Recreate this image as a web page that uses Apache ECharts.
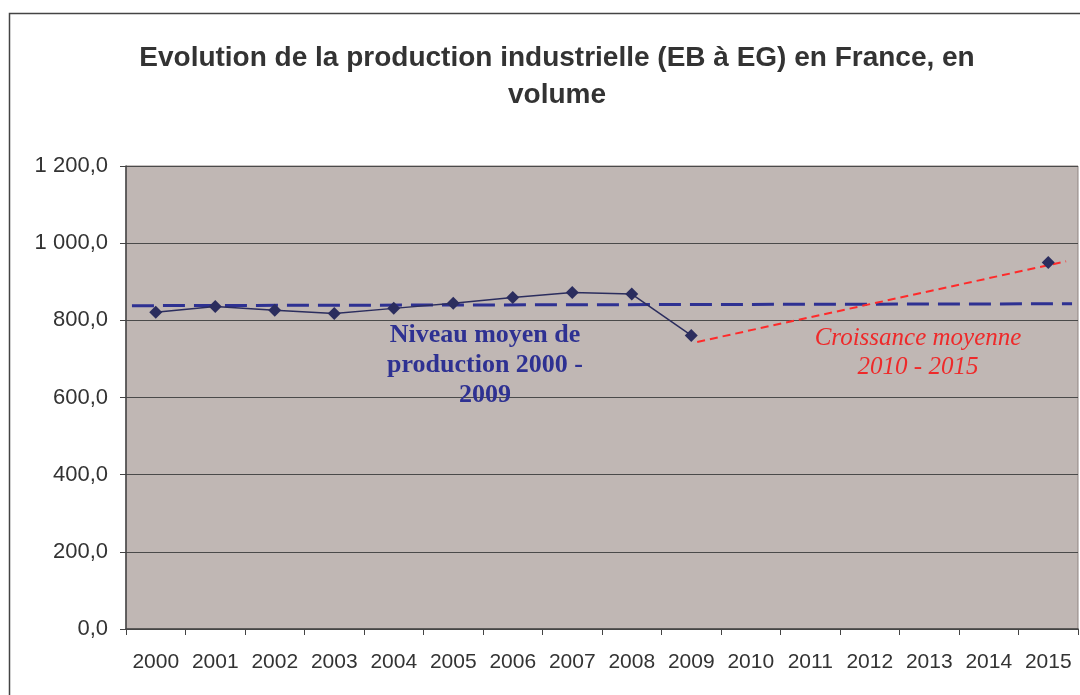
<!DOCTYPE html>
<html>
<head>
<meta charset="utf-8">
<script src="https://cdn.jsdelivr.net/npm/echarts@6/dist/echarts.min.js"></script>
<style>
  html, body { margin: 0; padding: 0; background: #fff; }
  #chart { width: 1080px; height: 695px; }
</style>
</head>
<body>
<div id="chart"></div>
<script>
// years on the category axis
const years = ['2000', '2001', '2002', '2003', '2004', '2005', '2006', '2007',
  '2008', '2009', '2010', '2011', '2012', '2013', '2014', '2015']
// production index, no values 2010-2014
const production = [821, 836, 826, 818, 831, 844, 859, 872, 868, 761,
  null, null, null, null, null, 950]
// average level 2000-2009 (x in category units, y value)
const avgLine = [[0.1, 838], [15.9, 843]]
// average growth 2010-2015
const growthLine = [[9.6, 744], [15.8, 953]]
const yTicks = { min: 0, max: 1200, interval: 200 }

const fmt = (v) => {
  const s = String(Math.round(v)).replace(/\B(?=(\d{3})+(?!\d))/g, ' ')
  return s + ',0'
}

const chart = echarts.init(document.getElementById('chart'))

const option = {
  animation: false,
  backgroundColor: '#fff',
  title: {
    text: 'Evolution de la production industrielle (EB à EG) en France, en\nvolume',
    left: 552,
    top: 35,
    textAlign: 'center',
    textStyle: {
      fontFamily: 'Liberation Sans',
      fontWeight: 'bold',
      fontSize: 28,
      lineHeight: 37,
      color: '#333'
    }
  },
  grid: {
    left: 126, right: 2, top: 166, bottom: 66,
    show: true,
    backgroundColor: '#c0b7b4',
    borderColor: '#8f8482',
    borderWidth: 1
  },
  xAxis: [{
    type: 'category',
    data: years,
    boundaryGap: true,
    axisLine: { lineStyle: { color: '#444', width: 1.5 } },
    axisTick: { show: true, interval: 0, length: 6, lineStyle: { color: '#444' } },
    axisLabel: {
      interval: 0,
      hideOverlap: false,
      margin: 23,
      fontFamily: 'Liberation Sans',
      fontSize: 21,
      color: '#333'
    },
    splitLine: { show: false }
  }, {
    type: 'value',
    min: 0,
    max: 16,
    show: false
  }],
  yAxis: {
    type: 'value',
    min: yTicks.min,
    max: yTicks.max,
    interval: yTicks.interval,
    axisLine: { show: true, lineStyle: { color: '#444', width: 1.5 } },
    axisTick: { show: true, length: 6, lineStyle: { color: '#444' } },
    axisLabel: {
      margin: 18,
      formatter: fmt,
      fontFamily: 'Liberation Sans',
      fontSize: 22,
      color: '#333'
    },
    splitLine: { lineStyle: { color: '#4a4a4a', width: 1 } }
  },
  graphic: [{
    type: 'rect',
    shape: { x: 9.5, y: 13.5, width: 1080, height: 700 },
    style: { fill: 'none', stroke: '#444', lineWidth: 1.5 },
    z: -1
  }, {
    type: 'text',
    x: 485,
    y: 320,
    style: {
      text: 'Niveau moyen de\nproduction 2000 -\n2009',
      align: 'center',
      fontFamily: 'Liberation Serif',
      fontWeight: 'bold',
      fontSize: 26,
      lineHeight: 30,
      fill: '#2e3192'
    },
    z: 10
  }, {
    type: 'text',
    x: 918,
    y: 324,
    style: {
      text: 'Croissance moyenne\n2010 - 2015',
      align: 'center',
      fontFamily: 'Liberation Serif',
      fontStyle: 'italic',
      fontSize: 25,
      lineHeight: 29,
      fill: '#ee2a2a'
    },
    z: 10
  }],
  series: [{
    type: 'line',
    xAxisIndex: 1,
    data: avgLine,
    symbol: 'none',
    lineStyle: { color: '#2e3192', width: 3, type: [22, 9] },
    z: 2
  }, {
    type: 'line',
    xAxisIndex: 1,
    data: growthLine,
    symbol: 'none',
    lineStyle: { color: '#ff2a2a', width: 2, type: [8, 5] },
    z: 2
  }, {
    type: 'line',
    xAxisIndex: 0,
    data: production,
    connectNulls: false,
    symbol: 'diamond',
    symbolSize: 13,
    itemStyle: { color: '#2b2d5e' },
    lineStyle: { color: '#2b2d5e', width: 1.5 },
    z: 3
  }]
}

chart.setOption(option)
</script>
</body>
</html>
